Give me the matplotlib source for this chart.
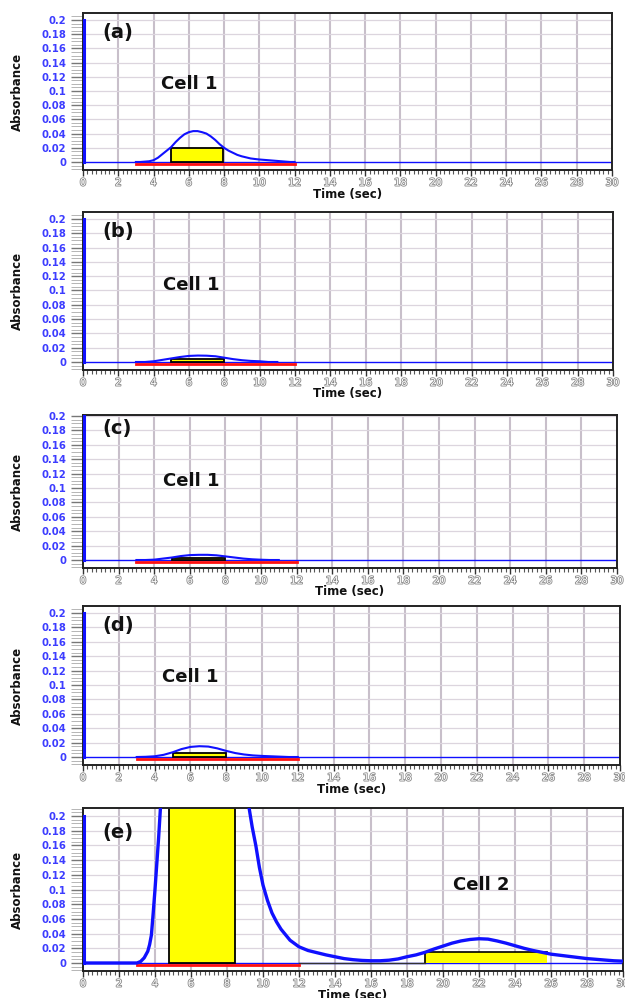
import matplotlib
matplotlib.use('Agg')
import matplotlib.pyplot as plt
from matplotlib.patches import Rectangle
from matplotlib.ticker import MultipleLocator, FixedLocator
from matplotlib.transforms import offset_copy
import matplotlib.patheffects as pe

# ---------------- data ----------------
panel_labels = ['(a)', '(b)', '(c)', '(d)', '(e)']
cell_labels = ['Cell 1', 'Cell 1', 'Cell 1', 'Cell 1', 'Cell 2']
x_ticks = [0, 2, 4, 6, 8, 10, 12, 14, 16, 18, 20, 22, 24, 26, 28, 30]
x_tick_labels = ['0', '2', '4', '6', '8', '10', '12', '14', '16', '18', '20',
                 '22', '24', '26', '28', '30']
y_ticks = [0, 0.02, 0.04, 0.06, 0.08, 0.1, 0.12, 0.14, 0.16, 0.18, 0.2]
y_tick_labels = ['0', '0.02', '0.04', '0.06', '0.08', '0.1', '0.12', '0.14',
                 '0.16', '0.18', '0.2']

time_a = [3.0, 3.25, 3.5, 3.75, 4.0, 4.25, 4.5, 4.75, 5.0, 5.25, 5.5, 5.75,
          6.0, 6.25, 6.5, 6.75, 7.0, 7.25, 7.5, 7.75, 8.0, 8.25, 8.5, 8.75,
          9.0, 9.25, 9.5, 9.75, 10.0, 10.25, 10.5, 10.75, 11.0, 11.25, 11.5,
          11.75, 12.0]
abs_a = [0, 0, 0.0005, 0.001, 0.0025, 0.006, 0.011, 0.016, 0.021, 0.028,
         0.034, 0.039, 0.042, 0.0435, 0.0435, 0.042, 0.040, 0.036, 0.031,
         0.025, 0.020, 0.016, 0.013, 0.010, 0.008, 0.0065, 0.005, 0.0042,
         0.0035, 0.003, 0.0025, 0.002, 0.0015, 0.001, 0.0005, 0, 0]

time_b = [3.0, 3.5, 4.0, 4.5, 5.0, 5.5, 6.0, 6.5, 7.0, 7.5, 8.0, 8.5, 9.0,
          9.5, 10.0, 10.5, 11.0]
abs_b = [0, 0, 0.001, 0.003, 0.005, 0.007, 0.0085, 0.009, 0.0088, 0.008,
         0.006, 0.004, 0.0025, 0.0015, 0.001, 0, 0]

time_c = [3.0, 3.5, 4.0, 4.5, 5.0, 5.5, 6.0, 6.5, 7.0, 7.5, 8.0, 8.5, 9.0,
          9.5, 10.0, 10.5, 11.0]
abs_c = [0, 0, 0.0005, 0.002, 0.0035, 0.0055, 0.0068, 0.0072, 0.0072,
         0.0065, 0.005, 0.0035, 0.002, 0.001, 0.0004, 0, 0]

time_d = [3.0, 3.5, 4.0, 4.5, 5.0, 5.5, 6.0, 6.5, 7.0, 7.5, 8.0, 8.5, 9.0,
          9.5, 10.0, 10.5, 11.0, 11.5, 12.0]
abs_d = [0, 0.0003, 0.001, 0.003, 0.0065, 0.011, 0.014, 0.015, 0.0145, 0.012,
         0.0085, 0.0055, 0.0035, 0.0022, 0.0015, 0.001, 0.0005, 0, 0]

time_e = [0, 3.0, 3.2, 3.4, 3.6, 3.7, 3.8, 3.9, 4.0, 4.1, 4.2, 4.3, 4.4,
          6.5, 9.1, 9.2, 9.4, 9.6, 9.8, 10.0, 10.25, 10.5, 10.75, 11.0, 11.5,
          12.0, 12.5, 13.0, 13.5, 14.0, 14.5, 15.0, 15.5, 16.0, 16.5, 17.0,
          17.5, 18.0, 18.5, 19.0, 19.5, 20.0, 20.5, 21.0, 21.5, 22.0, 22.5,
          23.0, 23.5, 24.0, 24.5, 25.0, 25.5, 26.0, 26.5, 27.0, 27.5, 28.0,
          28.5, 29.0, 29.5, 30.0]
abs_e = [0, 0, 0.002, 0.007, 0.016, 0.025, 0.038, 0.068, 0.1, 0.135, 0.17,
         0.21, 0.26, 0.9, 0.26, 0.215, 0.185, 0.16, 0.13, 0.106, 0.085,
         0.068, 0.056, 0.046, 0.031, 0.022, 0.017, 0.014, 0.011, 0.0085,
         0.006, 0.0045, 0.0035, 0.003, 0.003, 0.0038, 0.0055, 0.0085, 0.011,
         0.0145, 0.019, 0.023, 0.027, 0.030, 0.032, 0.033, 0.0325, 0.030,
         0.027, 0.0235, 0.020, 0.017, 0.0145, 0.012, 0.0105, 0.009, 0.0075,
         0.006, 0.005, 0.004, 0.003, 0.0025]

times = [time_a, time_b, time_c, time_d, time_e]
signals = [abs_a, abs_b, abs_c, abs_d, abs_e]

# integration windows (start, end, height)
cell1_windows = [(5.0, 7.95, 0.02), (5.0, 8.0, 0.004), (5.0, 8.0, 0.003),
                 (5.0, 8.0, 0.006), (4.76, 8.43, 0.6)]
cell2_window = (19.0, 25.8, 0.0145)
red_baseline = (3.0, 12.0)
black_baseline_e = (12.0, 19.0)

# ---------------- layout (pixels) ----------------
W, H = 625, 998
# top, bottom, right, ymin, ymax
panels_px = [(13, 170, 612, -0.0113, 0.2099),
             (212, 370, 613, -0.0112, 0.2098),
             (415, 568, 617, -0.0111, 0.2014),
             (606, 765, 620, -0.0111, 0.2097),
             (808, 971, 623, -0.0109, 0.2109)]
left_px = 83
cell_text_pos = [(6.0, 0.110), (6.1, 0.108), (6.1, 0.110), (6.0, 0.111), (22.1, 0.106)]

fig = plt.figure(figsize=(W / 100, H / 100), dpi=100)
fig.patch.set_facecolor('white')

blue = '#1010ff'
vgrid_col = '#c8bfca'
hgrid_col = '#dcd5de'

for i in range(5):
    top, bot, right, ymin, ymax = panels_px[i]
    ax = fig.add_axes([left_px / W, 1 - bot / H, (right - left_px) / W, (bot - top) / H])
    ax.set_xlim(0, 30)
    ax.set_ylim(ymin, ymax)

    # grid
    for xv in x_ticks[1:-1]:
        ax.axvline(xv, color=vgrid_col, lw=1.5, zorder=0)
    for yv in y_ticks[1:]:
        ax.axhline(yv, color=hgrid_col, lw=0.9, zorder=0)

    # ticks
    ax.xaxis.set_major_locator(FixedLocator(x_ticks))
    ax.xaxis.set_minor_locator(MultipleLocator(0.25))
    ax.yaxis.set_major_locator(FixedLocator(y_ticks))
    ax.yaxis.set_minor_locator(MultipleLocator(0.005))
    ax.set_xticklabels(x_tick_labels)
    ax.set_yticklabels(y_tick_labels)
    ax.tick_params(axis='x', which='major', length=4, width=1, color='#333333', pad=1.5)
    ax.tick_params(axis='x', which='minor', length=3, width=0.8, color='#555555')
    ax.tick_params(axis='y', which='major', length=9, width=1, color='#777777', pad=3)
    ax.tick_params(axis='y', which='minor', length=9, width=0.6, color='#aaaaaa')
    for lab in ax.get_yticklabels():
        lab.set_color('#3c3cff')
        lab.set_fontweight('bold')
        lab.set_fontsize(7.2)
    for lab in ax.get_xticklabels():
        lab.set_color('white')
        lab.set_fontsize(7.3)
        lab.set_path_effects([pe.withStroke(linewidth=1.2, foreground='#8a8a8a')])

    for sp in ax.spines.values():
        sp.set_color('#222222')
        sp.set_linewidth(1.4)

    # integration window rectangles
    x0, x1, hgt = cell1_windows[i]
    ax.add_patch(Rectangle((x0, 0), x1 - x0, hgt, facecolor='#ffff00',
                           edgecolor='black', lw=1.3, zorder=2))
    if i == 4:
        c0, c1, ch = cell2_window
        ax.add_patch(Rectangle((c0, 0), c1 - c0, ch, facecolor='#ffff00',
                               edgecolor='none', zorder=2))
        ax.plot([c0, c0, c1], [0, ch, ch], color='black', lw=1.2, zorder=2.5)
        ax.plot(black_baseline_e, [0, 0], color='#333333', lw=1.0, zorder=2.5)

    # baseline and red integration baseline
    ax.axhline(0, color=blue, lw=1.0, zorder=1.5)
    ax.plot(red_baseline, [-0.0028, -0.0028], color='#ff1010', lw=2.0, zorder=3)

    # signal
    lw = 2.4 if i == 4 else 1.5
    ax.plot(times[i], signals[i], color=blue, lw=lw, zorder=4, clip_on=True)

    # blue vertical line at t=0
    ax.plot([0.05, 0.05], [0, 0.2], color=blue, lw=2.2, zorder=5)

    # annotations
    ax.text(1.1, 0.183 if i < 4 else 0.177, panel_labels[i], fontsize=14,
            fontweight='bold', ha='left', va='center', color='#111111', zorder=6)
    cx, cy = cell_text_pos[i]
    ax.text(cx, cy, cell_labels[i], fontsize=13, fontweight='bold',
            ha='center', va='center', color='#111111', zorder=6)

    tr = offset_copy(ax.transAxes, fig=fig, x=0, y=-24, units='dots')
    ax.text(0.5, 0, 'Time (sec)', transform=tr, ha='center', va='center',
            fontsize=8.5, fontweight='bold', color='#111111')
    fig.text(17 / W, 1 - ((top + bot) / 2) / H, 'Absorbance', rotation=90,
             ha='center', va='center', fontsize=8.5, fontweight='bold',
             color='#111111')

fig.savefig('out.png', dpi=100, facecolor='white')
